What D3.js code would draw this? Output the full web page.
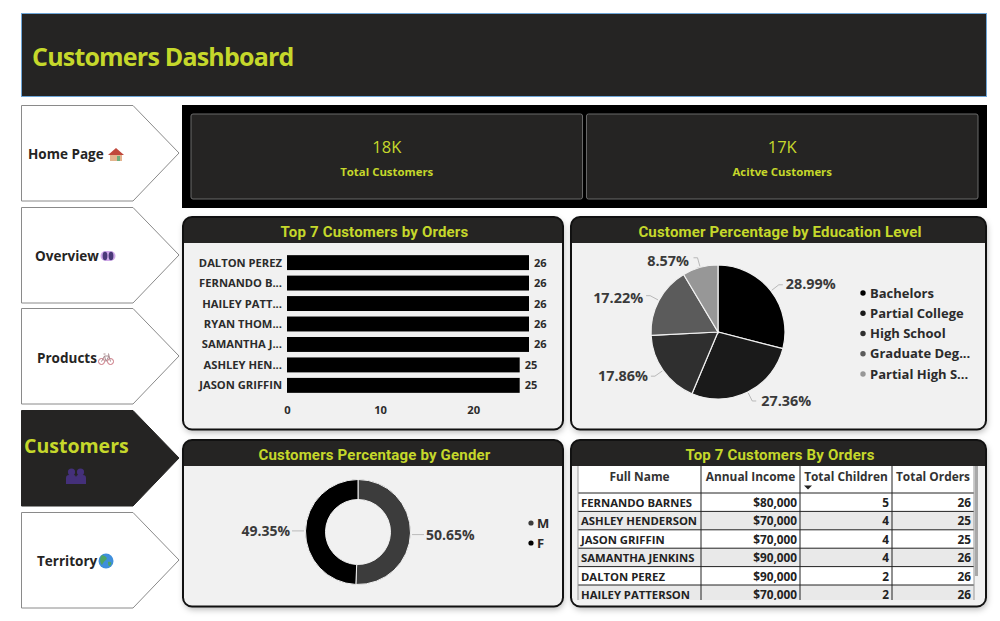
<!DOCTYPE html>
<html><head><meta charset="utf-8">
<script src="https://cdn.jsdelivr.net/npm/d3@7/dist/d3.min.js"></script>
<style>
html,body{margin:0;padding:0;background:#fff;overflow:hidden}
text{font-family:"Open Sans",sans-serif;font-weight:700}
text.din{font-family:Roboto,sans-serif;font-weight:700}
text.reg{font-weight:400}
</style></head><body>
<svg id="c" width="1000" height="621"></svg>
<script>
const dashboardTitle = "Customers Dashboard";
const navLabels = ["Home Page","Overview","Products","Customers","Territory"];
const kpiValues = ["18K","17K"];
const kpiLabels = ["Total Customers","Acitve Customers"];
const barNames = ["DALTON PEREZ","FERNANDO B...","HAILEY PATT...","RYAN THOM...","SAMANTHA J...","ASHLEY HEN...","JASON GRIFFIN"];
const barOrders = [26,26,26,26,26,25,25];
const axisTicks = [0,10,20];
const eduLevels = ["Bachelors","Partial College","High School","Graduate Deg...","Partial High S..."];
const eduShares = [28.99,27.36,17.86,17.22,8.57];
const genders = ["M","F"];
const genderShares = [50.65,49.35];
const tableHeaders = ["Full Name","Annual Income","Total Children","Total Orders"];
const tableNames = ["FERNANDO BARNES","ASHLEY HENDERSON","JASON GRIFFIN","SAMANTHA JENKINS","DALTON PEREZ","HAILEY PATTERSON"];
const tableIncome = ["$80,000","$70,000","$70,000","$90,000","$90,000","$70,000"];
const tableChildren = [5,4,4,4,2,2];
const tableOrders = [26,25,25,26,26,26];

const LIME="#c5d82b", DARK="#252423", INK="#2b2b2b", PANEL="#f1f1f1";
const svg=d3.select("#c");
const defs=svg.append("defs");
const blur=defs.append("filter").attr("id","sh").attr("x","-5%").attr("y","-5%").attr("width","110%").attr("height","115%");
blur.append("feDropShadow").attr("dx",1).attr("dy",3).attr("stdDeviation",3).attr("flood-color","#000").attr("flood-opacity",.28);

// header
svg.append("rect").attr("x",21.5).attr("y",13.5).attr("width",965).attr("height",83).attr("fill",DARK).attr("stroke","#6ea6d8").attr("stroke-width",1);
svg.append("text").attr("x",32).attr("y",66).attr("font-size",25).attr("letter-spacing",-0.8).attr("fill",LIME).text(dashboardTitle);

// navigation
const navTop=[105,207,308,410,512];
const navTextX=[28,35,37,24,37];
const navTextY=[159,261,363,453,566];
const navIcon=[
 g=>{g.append("path").attr("d","M0,-6 L8,1 L-8,1 Z").attr("fill","#c0483c");g.append("rect").attr("x",-6).attr("y",1).attr("width",12).attr("height",6).attr("fill","#e3b48f");g.append("rect").attr("x",1).attr("y",2).attr("width",3).attr("height",5).attr("fill","#6fae7b");},
 g=>{g.append("rect").attr("x",-7.5).attr("y",-5).attr("width",15).attr("height",10).attr("rx",5).attr("fill","#cfa9e8");g.append("ellipse").attr("cx",-3).attr("rx",2.4).attr("ry",4.2).attr("fill","#4a3a78");g.append("ellipse").attr("cx",3).attr("rx",2.4).attr("ry",4.2).attr("fill","#4a3a78");},
 g=>{g.attr("fill","none").attr("stroke","#c9707c").attr("stroke-width",1);g.append("circle").attr("cx",-4.5).attr("cy",2.5).attr("r",3);g.append("circle").attr("cx",4.5).attr("cy",2.5).attr("r",3);g.append("path").attr("d","M-4.5,2.5 L-1.5,-3 L3,-3 L4.5,2.5 M-1.5,-3 L0,2.5 L3,-3 M-2.5,-5 L-0.5,-5 M3,-3 L2.5,-5.5").attr("stroke","#a88a8f");},
 g=>{g.attr("fill","#44307a");g.append("circle").attr("cx",-4.5).attr("cy",-4).attr("r",3.6);g.append("circle").attr("cx",4.5).attr("cy",-4).attr("r",3.6);g.append("path").attr("d","M-10,8 L-10,2 Q-10,-1 -7,-1 L-2,-1 Q-0.5,-1 0,1 Q0.5,-1 2,-1 L7,-1 Q10,-1 10,2 L10,8 Z");},
 g=>{g.append("circle").attr("r",7.5).attr("fill","#3f8fdc");g.append("path").attr("d","M-4,-6 C0,-5 2,-3 0,-1 C-2,0 -3,2 -4,4 C-6,2 -7,-3 -4,-6 Z M2,1 C5,0 6,2 5,4 C3,6 2,5 2,1 Z").attr("fill","#4da565");}
];
const navIconX=[116,108,106,76,106], navIconY=[154,256,359,476,561];
navLabels.forEach((d,i)=>{
  const t=navTop[i], on=d==="Customers";
  svg.append("path").attr("d",`M21.5,${t+.5} H133 L179,${t+48} L133,${t+96} H21.5 Z`)
    .attr("fill",on?DARK:"#fff").attr("stroke",on?DARK:"#8a8a8a").attr("stroke-width",1);
  svg.append("text").attr("x",navTextX[i]).attr("y",navTextY[i]).attr("font-size",on?19.5:13.5)
    .attr("fill",on?LIME:"#252423").text(d);
  navIcon[i](svg.append("g").attr("transform",`translate(${navIconX[i]},${navIconY[i]})`));
});

// KPI band
svg.append("rect").attr("x",182).attr("y",105).attr("width",805).attr("height",103).attr("fill","#000");
const kpiX=d3.scaleBand().domain(kpiValues).range([191,978]).paddingInner(.01).paddingOuter(0);
kpiValues.forEach((d,i)=>{
  const x=kpiX(d), w=kpiX.bandwidth();
  svg.append("rect").attr("x",x).attr("y",114).attr("width",w).attr("height",85).attr("rx",2).attr("fill",DARK).attr("stroke","#6b6b6b");
  svg.append("text").attr("class","reg").attr("x",x+w/2).attr("y",153).attr("text-anchor","middle").attr("font-size",16.5).attr("fill",LIME).text(d);
  svg.append("text").attr("x",x+w/2).attr("y",176).attr("text-anchor","middle").attr("font-size",11.4).attr("fill",LIME).text(kpiLabels[i]);
});

// panels
function panel(x,y,w,h,head,title){
  const id="p"+x+"_"+y;
  svg.append("rect").attr("x",x).attr("y",y).attr("width",w).attr("height",h).attr("rx",9).attr("fill",PANEL).attr("filter","url(#sh)");
  defs.append("clipPath").attr("id",id).append("rect").attr("x",x).attr("y",y).attr("width",w).attr("height",h).attr("rx",9);
  svg.append("rect").attr("x",x).attr("y",y).attr("width",w).attr("height",head).attr("fill",DARK).attr("clip-path",`url(#${id})`);
  svg.append("text").attr("class","din").attr("x",x+w/2+1.5).attr("y",y+19.5).attr("text-anchor","middle").attr("font-size",15).attr("letter-spacing",.18).attr("fill",LIME).text(title);
  return ()=>svg.append("rect").attr("x",x).attr("y",y).attr("width",w).attr("height",h).attr("rx",9).attr("fill","none").attr("stroke","#111").attr("stroke-width",2);
}
const frames=[
 panel(183,217,380,212.5,26,"Top 7 Customers by Orders"),
 panel(571,217,415,212.5,26,"Customer Percentage by Education Level"),
 panel(183,440,380,166.5,26,"Customers Percentage by Gender"),
 panel(571,440,415,166.5,26,"Top 7 Customers By Orders")
];

// bars
const xBar=d3.scaleLinear().domain([0,26]).range([287,529]);
const yBar=d3.scaleBand().domain(barNames).range([252.5,395.5]).paddingInner(.27).paddingOuter(.13);
const gb=svg.append("g");
barNames.forEach((n,i)=>{
  const y=yBar(n), b=yBar.bandwidth();
  gb.append("rect").attr("x",xBar(0)).attr("y",y).attr("width",xBar(barOrders[i])-xBar(0)).attr("height",b).attr("fill","#000");
  gb.append("text").attr("x",282).attr("y",y+b/2+4).attr("text-anchor","end").attr("font-size",11.2).attr("fill",INK).text(n);
  gb.append("text").attr("x",xBar(barOrders[i])+5).attr("y",y+b/2+4).attr("font-size",11).attr("fill",INK).text(barOrders[i]);
});
const ax=svg.append("g").attr("transform","translate(0,406.5)").call(d3.axisBottom(xBar).tickValues(axisTicks).tickSize(0).tickPadding(0));
ax.select(".domain").remove();
ax.selectAll("text").attr("font-size",11.2).attr("fill",INK).attr("font-family",'"Open Sans",sans-serif');

// education pie
const eduColors=["#000","#1a1a1a","#2f2f2f","#5b5b5b","#979797"];
const pc={x:718,y:332}, pr=67;
const pieGen=d3.pie().sort(null);
const arc=d3.arc().innerRadius(0).outerRadius(pr);
const arcEdge=d3.arc().innerRadius(pr+1).outerRadius(pr+1);
const arcOut=d3.arc().innerRadius(pr+10).outerRadius(pr+10);
const gp=svg.append("g").attr("transform",`translate(${pc.x},${pc.y})`);
const eduArcs=pieGen(eduShares);
gp.selectAll("path.s").data(eduArcs).join("path").attr("class","s").attr("d",arc).attr("fill",(d,i)=>eduColors[i]).attr("stroke","#f1f1f1").attr("stroke-width",1.2);
const eduLabelNudge=[[0,-1],[2,0],[0,0],[0,2],[-1.5,3]];
eduArcs.forEach((d,i)=>{
  const a=arcEdge.centroid(d), o=arcOut.centroid(d), right=o[0]>0, dir=right?1:-1;
  const ex=o[0]+dir*4;
  gp.append("path").attr("d",`M${a} L${o} L${ex},${o[1]}`).attr("fill","none").attr("stroke","#aaa").attr("stroke-width",.8);
  gp.append("text").attr("x",ex+dir*3+eduLabelNudge[i][0]).attr("y",o[1]+5+eduLabelNudge[i][1]).attr("text-anchor",right?"start":"end").attr("font-size",14.4).attr("fill","#3a3a3a").text(eduShares[i].toFixed(2)+"%");
});
const legEdu=d3.scalePoint().domain(eduLevels).range([293,374]);
eduLevels.forEach((n,i)=>{
  svg.append("circle").attr("cx",863).attr("cy",legEdu(n)).attr("r",2.7).attr("fill",eduColors[i]);
  svg.append("text").attr("x",870).attr("y",legEdu(n)+4.5).attr("font-size",13).attr("fill",INK).text(n);
});

// gender donut
const genderColors=["#3c3c3c","#000"];
const dc={x:358,y:532};
const dArc=d3.arc().innerRadius(32.5).outerRadius(52.5);
const gd=svg.append("g").attr("transform",`translate(${dc.x},${dc.y})`);
const gArcs=pieGen(genderShares);
gd.selectAll("path").data(gArcs).join("path").attr("d",dArc).attr("fill",(d,i)=>genderColors[i]).attr("stroke","#f1f1f1").attr("stroke-width",1);
const dLead=d3.arc().innerRadius(54).outerRadius(54), dLead2=d3.arc().innerRadius(66).outerRadius(66);
gArcs.forEach((d,i)=>{
  const a=dLead.centroid(d), o=dLead2.centroid(d), right=a[0]>0, dir=right?1:-1;
  gd.append("path").attr("d",`M${a[0]},${a[1]+(right?1.5:0)} H${o[0]}`).attr("stroke","#bbb").attr("stroke-width",1);
  gd.append("text").attr("x",o[0]+dir*2).attr("y",a[1]+(right?7:5)).attr("text-anchor",right?"start":"end").attr("font-size",14).attr("fill","#3a3a3a").text(genderShares[i].toFixed(2)+"%");
});
const legG=d3.scalePoint().domain(genders).range([523,543]);
genders.forEach((n,i)=>{
  svg.append("circle").attr("cx",531).attr("cy",legG(n)).attr("r",2.6).attr("fill",genderColors[i]);
  svg.append("text").attr("x",537).attr("y",legG(n)+4.5).attr("font-size",13).attr("fill",INK).text(n);
});

// table
const colEdges=[578,701,800,892,974];
const rowY=d3.scaleLinear().domain([0,1]).range([493,511.4]);
const bottom=600;
defs.append("clipPath").attr("id","tc").append("rect").attr("x",576).attr("y",464).attr("width",400).attr("height",bottom-464);
const gt=svg.append("g").attr("clip-path","url(#tc)");
gt.append("rect").attr("x",578).attr("y",466).attr("width",396).attr("height",27).attr("fill","#fff");
tableNames.forEach((n,i)=>{
  const y=rowY(i);
  gt.append("rect").attr("x",578).attr("y",y).attr("width",396).attr("height",rowY(1)-rowY(0)).attr("fill",i%2?"#e9e9e9":"#fff");
  gt.append("line").attr("x1",578).attr("x2",974).attr("y1",y).attr("y2",y).attr("stroke","#222").attr("stroke-width",1);
  gt.append("text").attr("x",581).attr("y",y+14).attr("font-size",11.3).attr("fill","#222").text(n);
  [tableIncome[i],tableChildren[i],tableOrders[i]].forEach((v,j)=>{
    gt.append("text").attr("x",colEdges[j+2]-3).attr("y",y+14).attr("text-anchor","end").attr("font-size",11.8).attr("fill","#222").text(v);
  });
});
colEdges.forEach((x,i)=>gt.append("line").attr("x1",x).attr("x2",x).attr("y1",466).attr("y2",bottom).attr("stroke",(i===0||i===4)?"#999":"#222").attr("stroke-width",1));
tableHeaders.forEach((h,i)=>{
  gt.append("text").attr("x",(colEdges[i]+colEdges[i+1])/2).attr("y",480.5).attr("text-anchor","middle").attr("font-size",11.9).attr("fill","#333").text(h);
});
gt.append("path").attr("d","M804,485.5 h8 l-4,4 Z").attr("fill","#222");
svg.append("rect").attr("x",975).attr("y",466).attr("width",3).attr("height",110).attr("fill","#a8a8a8");

frames.forEach(f=>f());
</script>
</body></html>
